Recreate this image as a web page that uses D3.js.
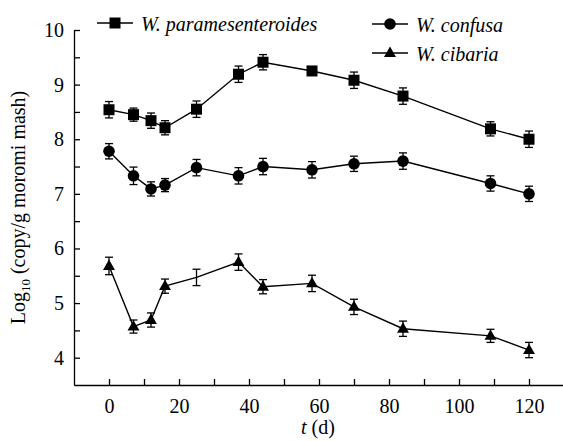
<!DOCTYPE html>
<meta charset="utf-8">
<head>
<script src="https://d3js.org/d3.v7.min.js"></script>
<style>
  body { margin: 0; background: #fff; }
</style>
</head>
<body>
<div id="my_dataviz"></div>
<script>

// sampling days
var days = [0, 7, 12, 16, 25, 37, 44, 58, 70, 84, 109, 120];

// log10 copies per g moromi mash
var paramesenteroides = [8.54, 8.45, 8.34, 8.21, 8.55, 9.19, 9.41, 9.25, 9.08, 8.79, 8.19, 8.00];
var paramesenteroidesErr = [0.15, 0.12, 0.14, 0.13, 0.15, 0.15, 0.14, 0.08, 0.15, 0.15, 0.13, 0.15];

var confusa = [7.78, 7.33, 7.09, 7.16, 7.48, 7.33, 7.50, 7.44, 7.55, 7.60, 7.19, 7.00];
var confusaErr = [0.14, 0.16, 0.13, 0.12, 0.15, 0.15, 0.15, 0.15, 0.14, 0.15, 0.14, 0.14];

var cibaria = [5.68, 4.57, 4.69, 5.31, 5.47, 5.75, 5.30, 5.36, 4.93, 4.53, 4.40, 4.14];
var cibariaErr = [0.16, 0.12, 0.13, 0.13, 0.15, 0.15, 0.13, 0.15, 0.14, 0.14, 0.12, 0.14];
var cibariaNoMarker = [4]; // the point at day 25 has no symbol in the original

var seriesNames = ["W. paramesenteroides", "W. confusa", "W. cibaria"];

var xTicks = [0, 10, 20, 30, 40, 50, 60, 70, 80, 90, 100, 110, 120];
var yTicks = [4, 4.5, 5, 5.5, 6, 6.5, 7, 7.5, 8, 8.5, 9, 9.5, 10];

var width = 563, height = 441;
var serif = "'Liberation Serif', 'DejaVu Serif', serif";

var svg = d3.select("#my_dataviz")
  .append("svg")
    .attr("width", width)
    .attr("height", height)
    .attr("font-family", serif);

var x = d3.scaleLinear().domain([-10, 130]).range([74, 564]);
var y = d3.scaleLinear().domain([3.5, 10]).range([385, 30]);

// axes, ticks point inward
var xAxis = svg.append("g")
  .attr("transform", "translate(0," + y(3.5) + ")")
  .call(d3.axisBottom(x)
    .tickValues(xTicks)
    .tickSizeInner(-6)
    .tickSizeOuter(0)
    .tickPadding(14)
    .tickFormat(function(d) { return d % 20 === 0 ? d : ""; }));

var yAxis = svg.append("g")
  .attr("transform", "translate(" + x(-10) + ",0)")
  .call(d3.axisLeft(y)
    .tickValues(yTicks)
    .tickSizeInner(-6)
    .tickSizeOuter(0)
    .tickPadding(10)
    .tickFormat(function(d) { return d % 1 === 0 ? d : ""; }));

xAxis.attr("font-family", serif).attr("font-size", 20);
yAxis.attr("font-family", serif).attr("font-size", 20);
svg.selectAll(".domain, .tick line").attr("stroke", "#000").attr("stroke-width", 1.3);
svg.selectAll(".tick text").attr("fill", "#000");

// axis titles
var xlab = svg.append("text")
  .attr("x", 318)
  .attr("y", 434)
  .attr("text-anchor", "middle")
  .attr("font-size", 20);
xlab.append("tspan").attr("font-style", "italic").text("t");
xlab.append("tspan").text(" (d)");

var ylab = svg.append("text")
  .attr("transform", "translate(25," + ((y(3.5) + y(10)) / 2) + ") rotate(-90)")
  .attr("text-anchor", "middle")
  .attr("font-size", 20);
ylab.append("tspan").text("Log");
ylab.append("tspan").attr("dy", 5).attr("font-size", 13).text("10");
ylab.append("tspan").attr("dy", -5).text(" (copy/g moromi mash)");

var line = d3.line()
  .x(function(d) { return x(d.t); })
  .y(function(d) { return y(d.v); });

function makeData(vals, errs) {
  return days.map(function(t, i) { return {t: t, v: vals[i], e: errs[i], i: i}; });
}

function drawSymbol(g, shape, cx, cy) {
  if (shape === "square") {
    g.append("rect")
      .attr("x", cx - 5.5).attr("y", cy - 5.5)
      .attr("width", 11).attr("height", 11)
      .attr("fill", "#000");
  } else if (shape === "circle") {
    g.append("circle")
      .attr("cx", cx).attr("cy", cy).attr("r", 5.8)
      .attr("fill", "#000");
  } else {
    g.append("path")
      .attr("d", d3.symbol().type(d3.symbolTriangle).size(62)())
      .attr("transform", "translate(" + cx + "," + (cy + 0.5) + ")")
      .attr("fill", "#000");
  }
}

function drawSeries(vals, errs, shape, skip) {
  var data = makeData(vals, errs);
  var g = svg.append("g");

  g.append("path")
    .datum(data)
    .attr("d", line)
    .attr("fill", "none")
    .attr("stroke", "#000")
    .attr("stroke-width", 1.4);

  // error bars
  data.forEach(function(d) {
    var cx = x(d.t), y0 = y(d.v - d.e), y1 = y(d.v + d.e);
    g.append("line").attr("x1", cx).attr("x2", cx).attr("y1", y0).attr("y2", y1)
      .attr("stroke", "#000").attr("stroke-width", 1.3);
    [y0, y1].forEach(function(yy) {
      g.append("line").attr("x1", cx - 4).attr("x2", cx + 4).attr("y1", yy).attr("y2", yy)
        .attr("stroke", "#000").attr("stroke-width", 1.3);
    });
  });

  data.forEach(function(d) {
    if (skip && skip.indexOf(d.i) >= 0) return;
    drawSymbol(g, shape, x(d.t), y(d.v));
  });
}

drawSeries(paramesenteroides, paramesenteroidesErr, "square");
drawSeries(confusa, confusaErr, "circle");
drawSeries(cibaria, cibariaErr, "triangle", cibariaNoMarker);

// legend
var legendItems = [
  {name: seriesNames[0], shape: "square", lx: 97, ly: 23},
  {name: seriesNames[1], shape: "circle", lx: 372, ly: 24},
  {name: seriesNames[2], shape: "triangle", lx: 372, ly: 53}
];
legendItems.forEach(function(d) {
  var g = svg.append("g");
  g.append("line")
    .attr("x1", d.lx).attr("x2", d.lx + 36)
    .attr("y1", d.ly).attr("y2", d.ly)
    .attr("stroke", "#000").attr("stroke-width", 1.4);
  drawSymbol(g, d.shape, d.lx + 18, d.ly);
  g.append("text")
    .attr("x", d.lx + 44)
    .attr("y", d.ly + 8)
    .attr("font-size", 20)
    .attr("font-style", "italic")
    .text(d.name);
});

</script>
</body>
